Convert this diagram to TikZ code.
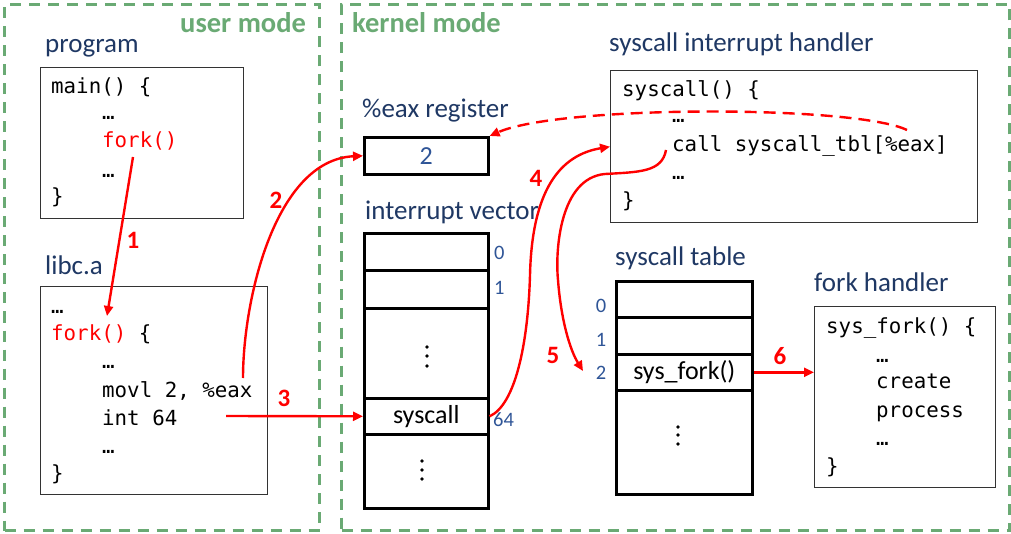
\documentclass[tikz,border=0pt]{standalone}
\usepackage{fontspec}
\setmainfont{Carlito}
\newfontfamily\codefont{DejaVu Sans Mono}
\usetikzlibrary{arrows.meta}
\definecolor{modegreen}{RGB}{106,170,116}
\definecolor{lblblue}{RGB}{31,56,100}
\definecolor{idxblue}{RGB}{47,85,151}
\tikzset{
  modebox/.style={draw=modegreen, line width=3pt, dash pattern=on 11pt off 8pt, anchor=north west, inner sep=0},
  modelabel/.style={text=modegreen, font=\fontsize{28.5}{32}\selectfont\bfseries, anchor=base west, inner sep=0},
  lbl/.style={text=lblblue, font=\fontsize{27}{31}\selectfont, anchor=base west, inner sep=0},
  codebox/.style={draw=black!80, line width=1.4pt, anchor=north west, inner sep=0},
  memcell/.style={draw=black, line width=2.6pt, anchor=north west, inner sep=0, minimum width=124pt},
  tblcell/.style={draw=black, line width=2.6pt, anchor=north west, inner sep=0, minimum width=136pt},
  code/.style={font=\codefont\fontsize{20.8}{24}\selectfont, anchor=base west, inner sep=0},
  idx/.style={text=idxblue, font=\fontsize{20.5}{24}\selectfont, inner sep=0},
  celltext/.style={font=\fontsize{26}{30}\selectfont},
  numlbl/.style={text=red, font=\fontsize{25}{29}\selectfont\bfseries, inner sep=0},
  redarrow/.style={draw=red, line width=2.4pt, -{Triangle[length=10pt,width=9pt]}},
  vdot/.style={fill=black},
}
\begin{document}
\begin{tikzpicture}[x=1pt,y=-1pt]
\useasboundingbox (0,0) rectangle (1011,534);

% mode regions
\node[modebox, minimum width=315pt, minimum height=526pt] (user) at (3,3) {};
\node[modebox, minimum width=668pt, minimum height=526pt] (kernel) at (340,3) {};
\node[modelabel] (userlbl) at (180,33) {user mode};
\node[modelabel] (kernlbl) at (352,33) {kernel mode};

% program
\node[lbl] (proglbl) at (45,53) {program};
\node[codebox, minimum width=203pt, minimum height=151pt] (prog) at (40,67) {};
\node[code] (p1) at (51,94) {main() \{};
\node[code] (p2) at (102,120) {…};
\node[code, text=red] (p3) at (102,148) {fork()};
\node[code] (p4) at (102,178) {…};
\node[code] (p5) at (51,204) {\}};

% libc
\node[lbl] (libclbl) at (45,275) {libc.a};
\node[codebox, minimum width=227pt, minimum height=208pt] (libc) at (40,286) {};
\node[code] (l1) at (51,313) {…};
\node[code] (l2) at (51,341) {\textcolor{red}{fork()} \{};
\node[code] (l3) at (102,368) {…};
\node[code] (l4) at (102,397) {movl 2, \%eax};
\node[code] (l5) at (102,425) {int 64};
\node[code] (l6) at (102,453) {…};
\node[code] (l7) at (51,480) {\}};

% eax register
\node[lbl] (eaxlbl) at (362,118) {\%eax register};
\node[memcell, minimum height=37pt] (eax) at (363,136) {};
\node[celltext, text=idxblue] (eaxval) at (eax.center) {2};

% interrupt vector
\node[lbl] (ivlbl) at (365,220) {interrupt vector};
\node[memcell, minimum height=37pt] (iv0) at (363,232) {};
\node[memcell, minimum height=38pt] (iv1) at (363,269) {};
\node[memcell, minimum height=90pt] (iv2) at (363,307) {};
\node[memcell, minimum height=36pt] (ivs) at (363,397) {};
\node[celltext] (ivstext) at (ivs.center) {syscall};
\node[memcell, minimum height=74pt] (iv4) at (363,433) {};
\node[idx, anchor=west] (ix0) at (494,253) {0};
\node[idx, anchor=west] (ix1) at (494,288) {1};
\node[idx, anchor=west] (ix64) at (493,420) {64};
\foreach \yy in {347,356,366} \fill[vdot] (427,\yy) circle (1.8pt);
\foreach \yy in {461,470,479} \fill[vdot] (422,\yy) circle (1.8pt);

% syscall interrupt handler
\node[lbl] (sihlbl) at (609,52) {syscall interrupt handler};
\node[codebox, minimum width=367pt, minimum height=152pt] (sih) at (610,70) {};
\node[code] (h1) at (622,97) {syscall() \{};
\node[code] (h2) at (672,123) {…};
\node[code] (h3) at (672,152) {call syscall\_tbl[\%eax]};
\node[code] (h4) at (672,180) {…};
\node[code] (h5) at (622,208) {\}};

% syscall table
\node[lbl] (tbllbl) at (615,266) {syscall table};
\node[tblcell, minimum height=36pt] (t0) at (615,280) {};
\node[tblcell, minimum height=37pt] (t1) at (615,316) {};
\node[tblcell, minimum height=36pt] (t2) at (615,353) {};
\node[celltext] (sf) at (t2.center) {sys\_fork()};
\node[tblcell, minimum height=104pt] (t3) at (615,389) {};
\node[idx] (tx0) at (601,306) {0};
\node[idx] (tx1) at (601,340) {1};
\node[idx] (tx2) at (601,373) {2};
\foreach \yy in {427,435,444} \fill[vdot] (678,\yy) circle (1.8pt);

% fork handler
\node[lbl] (fhlbl) at (814,291) {fork handler};
\node[codebox, minimum width=181pt, minimum height=181pt] (fh) at (814,306) {};
\node[code] (f1) at (826,334) {sys\_fork() \{};
\node[code] (f2) at (876,362) {…};
\node[code] (f3) at (876,388) {create};
\node[code] (f4) at (876,417) {process};
\node[code] (f5) at (876,445) {…};
\node[code] (f6) at (826,473) {\}};

% arrows
\coordinate (a1s) at (133,157);
\coordinate (a1e) at (107,316);
\draw[redarrow] (a1s) -- (a1e);
\node[numlbl] (n1) at (133,240) {1};

\coordinate (a2s) at (243,378);
\draw[redarrow] (a2s) .. controls (243,300) and (275,160) .. (eax.west);
\node[numlbl] (n2) at (276,200) {2};

\coordinate (a3s) at (226,416);
\draw[redarrow] (a3s) -- (ivs.west);
\node[numlbl] (n3) at (284,398) {3};

\coordinate (a4m) at (530,275);
\draw[redarrow] (ivs.east) .. controls (515,405) and (528,345) .. (a4m)
  .. controls (532,190) and (560,155) .. (sih.west);
\node[numlbl] (n4) at (536,178) {4};

\coordinate (a5s) at (666,150);
\coordinate (a5a) at (605,174);
\coordinate (a5b) at (558,280);
\coordinate (a5e) at (583,371);
\draw[redarrow] (a5s) .. controls (662,172) and (640,172) .. (a5a)
  .. controls (560,178) and (555,250) .. (a5b)
  .. controls (561,320) and (570,350) .. (a5e);
\node[numlbl] (n5) at (553,355) {5};

\draw[redarrow] (sf.east -| t2.east) -- (sf.east -| fh.west);
\node[numlbl] (n6) at (780,356) {6};

\coordinate (ds) at (907,130);
\draw[redarrow, dash pattern=on 12pt off 7pt] (ds) .. controls (855,105) and (560,105) .. (eax.north east);
\end{tikzpicture}
\end{document}
